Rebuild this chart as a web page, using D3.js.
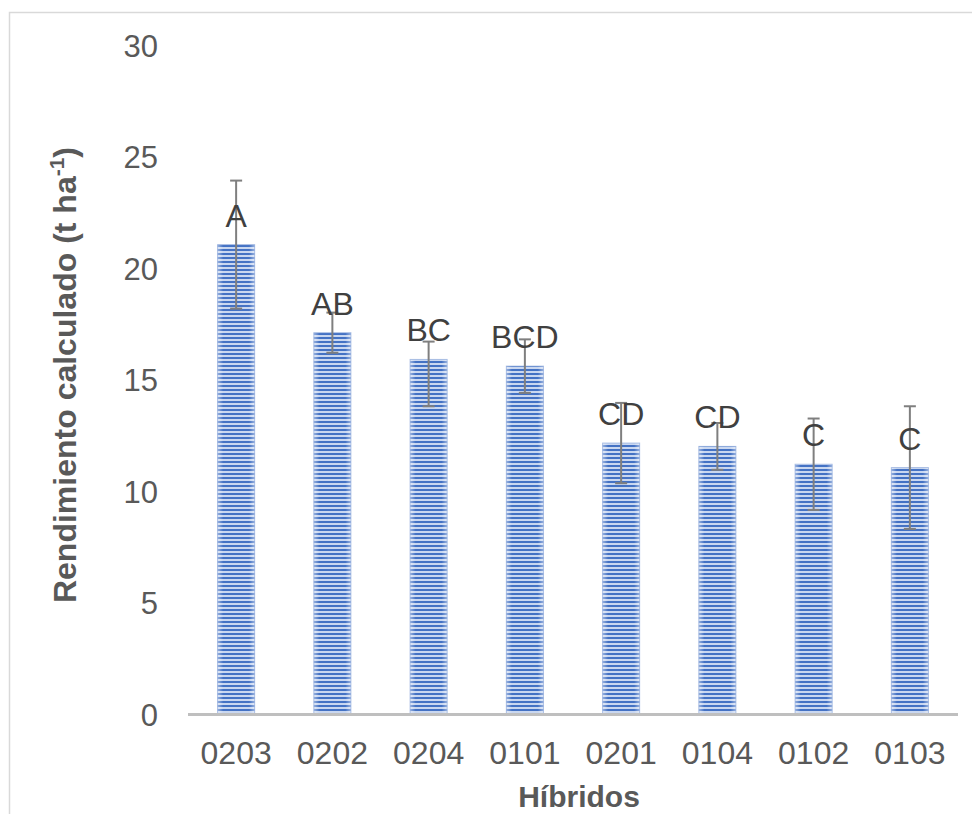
<!DOCTYPE html>
<html>
<head>
<meta charset="utf-8">
<script src="https://cdn.jsdelivr.net/npm/d3@7"></script>
<style>
  html, body { margin: 0; padding: 0; background: #fff; }
  svg { display: block; }
</style>
</head>
<body>
<svg id="chart" width="972" height="814"></svg>
<script>
// Híbridos and calculated yield (t/ha) with error ranges and Tukey groups
const hybrids = ["0203", "0202", "0204", "0101", "0201", "0104", "0102", "0103"];
const yieldMean = [21.05, 17.1, 15.9, 15.6, 12.15, 12.0, 11.2, 11.05];
const errUp = [2.87, 0.9, 0.8, 1.2, 1.8, 1.05, 2.05, 2.75];
const errDown = [2.87, 0.9, 2.1, 1.2, 1.8, 1.05, 2.05, 2.75];
const groups = ["A", "AB", "BC", "BCD", "CD", "CD", "C", "C"];
const yTicks = [0, 5, 10, 15, 20, 25, 30];

const svg = d3.select("#chart");
const font = "Arial, 'Liberation Sans', sans-serif";
const textColor = "#595959";

// chart area frame
svg.append("rect")
  .attr("x", 9.5).attr("y", 12.5)
  .attr("width", 1100).attr("height", 1100)
  .attr("fill", "none").attr("stroke", "#d9d9d9").attr("stroke-width", 1.5);

const plot = { left: 188, right: 958, top: 45, bottom: 714 };

const x = d3.scaleBand().domain(hybrids).range([plot.left, plot.right]).paddingInner(0.615).paddingOuter(0.3075);
const y = d3.scaleLinear().domain([0, 30]).range([plot.bottom, plot.top]);

// striped fill
const defs = svg.append("defs");
const pat = defs.append("pattern")
  .attr("id", "stripes").attr("patternUnits", "userSpaceOnUse")
  .attr("width", 8).attr("height", 4);
pat.append("rect").attr("width", 8).attr("height", 4).attr("fill", "#c9d7f0");
pat.append("rect").attr("y", 1).attr("width", 8).attr("height", 2).attr("fill", "#4472c4");

const edge = defs.append("linearGradient").attr("id", "edge").attr("x1", 0).attr("x2", 1);
edge.append("stop").attr("offset", 0).attr("stop-color", "#fff").attr("stop-opacity", 0.45);
edge.append("stop").attr("offset", 0.15).attr("stop-color", "#fff").attr("stop-opacity", 0);
edge.append("stop").attr("offset", 0.85).attr("stop-color", "#fff").attr("stop-opacity", 0);
edge.append("stop").attr("offset", 1).attr("stop-color", "#fff").attr("stop-opacity", 0.45);

// y tick labels (no gridlines, no axis line)
const yAxis = d3.axisLeft(y).tickValues(yTicks).tickSize(0).tickPadding(0);
const gy = svg.append("g").attr("transform", "translate(158,0)").call(yAxis);
gy.select(".domain").remove();
gy.selectAll("text")
  .attr("font-family", font).attr("font-size", 31).attr("fill", textColor)
  .attr("dy", "0.36em");

// bars
const bars = svg.append("g");
hybrids.forEach((h, i) => {
  const bx = x(h), bw = x.bandwidth();
  const by = y(yieldMean[i]);
  bars.append("rect").attr("x", bx).attr("y", by)
    .attr("width", bw).attr("height", y(0) - by).attr("fill", "url(#stripes)");
  bars.append("rect").attr("x", bx).attr("y", by)
    .attr("width", bw).attr("height", y(0) - by).attr("fill", "url(#edge)")
    .attr("stroke", "#8faadc").attr("stroke-width", 1).attr("stroke-opacity", 0.7);
});

// x axis
const xAxis = d3.axisBottom(x).tickSize(0).tickPadding(0);
const gx = svg.append("g").attr("transform", `translate(0,${plot.bottom})`).call(xAxis);
gx.select(".domain").remove();
gx.selectAll("text")
  .attr("font-family", font).attr("font-size", 32).attr("fill", textColor)
  .attr("y", 50).attr("dy", 0);
svg.append("line")
  .attr("x1", plot.left).attr("x2", plot.right)
  .attr("y1", plot.bottom + 0.5).attr("y2", plot.bottom + 0.5)
  .attr("stroke", "#bfbfbf").attr("stroke-width", 3);

// error bars
const eb = svg.append("g").attr("stroke", "#7f7f7f").attr("stroke-width", 2);
hybrids.forEach((h, i) => {
  const cx = x(h) + x.bandwidth() / 2;
  const yt = y(yieldMean[i] + errUp[i]);
  const yb = y(yieldMean[i] - errDown[i]);
  eb.append("line").attr("x1", cx).attr("x2", cx).attr("y1", yt).attr("y2", yb);
  eb.append("line").attr("x1", cx - 6).attr("x2", cx + 6).attr("y1", yt).attr("y2", yt);
  eb.append("line").attr("x1", cx - 6).attr("x2", cx + 6).attr("y1", yb).attr("y2", yb);
});

// group letters
svg.append("g").selectAll("text").data(hybrids).join("text")
  .attr("x", h => x(h) + x.bandwidth() / 2)
  .attr("y", (h, i) => y(yieldMean[i]) - 18)
  .attr("text-anchor", "middle")
  .attr("font-family", font).attr("font-size", 32).attr("fill", "#404040")
  .text((h, i) => groups[i]);

// axis titles
const yt = svg.append("text")
  .attr("transform", "translate(76,375) rotate(-90)")
  .attr("text-anchor", "middle")
  .attr("font-family", font).attr("font-size", 32).attr("font-weight", "bold").attr("fill", textColor);
yt.append("tspan").text("Rendimiento calculado (t ha");
yt.append("tspan").attr("dy", -12).attr("font-size", 21).text("-1");
yt.append("tspan").attr("dy", 12).text(")");

svg.append("text")
  .attr("x", 579).attr("y", 807)
  .attr("text-anchor", "middle")
  .attr("font-family", font).attr("font-size", 30).attr("font-weight", "bold").attr("fill", textColor)
  .text("Híbridos");
</script>
</body>
</html>
